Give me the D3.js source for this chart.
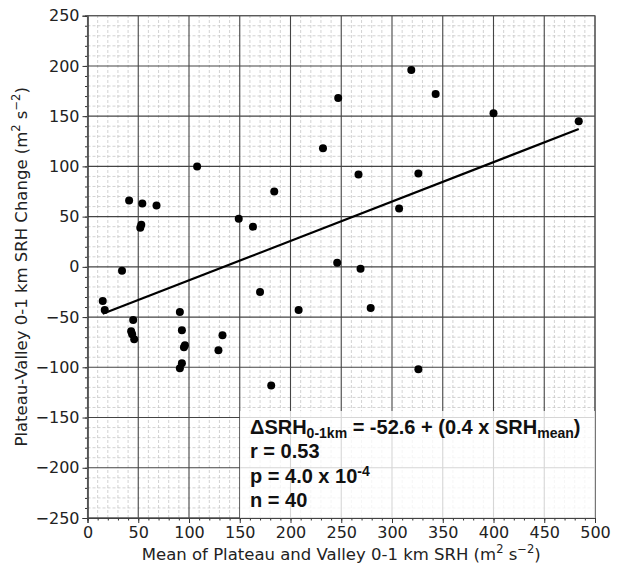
<!DOCTYPE html>
<html><head><meta charset="utf-8">
<script src="https://cdn.jsdelivr.net/npm/d3@7"></script>
<style>body{margin:0;background:#fff}svg{display:block}</style>
</head><body>
<script>
const meanSRH = [41,54,68,52,53,108,149,163,184,34,247,319,343,400,484,232,267,326,307,246,269,15,17,45,43,44,46,91,93,95,96,93,91,129,133,170,208,181,279,326];
const srhChange = [66,63,61,39,42,100,48,40,75,-4,168,196,172,153,145,118,92,93,58,4,-2,-34,-43,-53,-64,-67,-72,-45,-63,-80,-78,-96,-101,-83,-68,-25,-43,-118,-41,-102];
const fitIntercept = -52.6;
const fitSlope = 0.392;
const fitRange = [15, 484];
const xTicks = [0,50,100,150,200,250,300,350,400,450,500];
const yTicks = [-250,-200,-150,-100,-50,0,50,100,150,200,250];
const statsLines = ["r = 0.53", "n = 40"];

const W = 618, H = 565;
const svg = d3.select("body").append("svg").attr("width", W).attr("height", H);
const x = d3.scaleLinear([0,500],[87.5,595]);
const y = d3.scaleLinear([-250,250],[518,15.7]);
const minorX = d3.range(0,501,10), minorY = d3.range(-250,251,10);

const g = svg.append("g");
// minor grid
g.selectAll(".mx").data(minorX.filter(v=>v%50)).join("line")
  .attr("x1",d=>x(d)).attr("x2",d=>x(d)).attr("y1",y(-250)).attr("y2",y(250))
  .attr("stroke","#c8c8c8").attr("stroke-width",0.8).attr("stroke-dasharray","3,2");
g.selectAll(".my").data(minorY.filter(v=>v%50)).join("line")
  .attr("y1",d=>y(d)).attr("y2",d=>y(d)).attr("x1",x(0)).attr("x2",x(500))
  .attr("stroke","#c8c8c8").attr("stroke-width",0.8).attr("stroke-dasharray","3,2");
// major grid
g.selectAll(".Mx").data(xTicks).join("line")
  .attr("x1",d=>x(d)).attr("x2",d=>x(d)).attr("y1",y(-250)).attr("y2",y(250))
  .attr("stroke","#444").attr("stroke-width",1.1);
g.selectAll(".My").data(yTicks).join("line")
  .attr("y1",d=>y(d)).attr("y2",d=>y(d)).attr("x1",x(0)).attr("x2",x(500))
  .attr("stroke","#444").attr("stroke-width",1.1);

// axes
const fmt = d3.format("");
const xAxis = d3.axisBottom(x).tickValues(xTicks).tickSize(5).tickPadding(4).tickFormat(fmt);
const yAxis = d3.axisLeft(y).tickValues(yTicks).tickSize(5).tickPadding(3).tickFormat(fmt);
const xMinor = d3.axisBottom(x).tickValues(minorX).tickSize(2.5).tickFormat("");
const yMinor = d3.axisLeft(y).tickValues(minorY).tickSize(2.5).tickFormat("");
[[xMinor,"b"],[yMinor,"l"],[xAxis,"b"],[yAxis,"l"]].forEach(([ax,s])=>{
  const a = svg.append("g").attr("transform", s==="b" ? `translate(0,${y(-250)})` : `translate(${x(0)},0)`).call(ax);
  a.select(".domain").attr("stroke","#333");
  a.selectAll(".tick line").attr("stroke","#333");
  a.selectAll("text").attr("font-family","DejaVu Sans").attr("font-size",16).attr("fill","#222");
});

// fit line
svg.append("line")
  .attr("x1",x(fitRange[0])).attr("y1",y(fitIntercept+fitSlope*fitRange[0]))
  .attr("x2",x(fitRange[1])).attr("y2",y(fitIntercept+fitSlope*fitRange[1]))
  .attr("stroke","#000").attr("stroke-width",2.2);

// points
svg.selectAll(".pt").data(meanSRH.map((v,i)=>[v,srhChange[i]])).join("circle")
  .attr("cx",d=>x(d[0])).attr("cy",d=>y(d[1])).attr("r",4).attr("fill","#000");

// frame
svg.append("rect").attr("x",x(0)).attr("y",y(250)).attr("width",x(500)-x(0)).attr("height",y(-250)-y(250))
  .attr("fill","none").attr("stroke","#555").attr("stroke-width",1);

// annotation box
svg.append("rect").attr("x",240).attr("y",411).attr("width",x(500)-240).attr("height",y(-250)-411)
  .attr("fill","#fff").attr("fill-opacity",0.78);

const tb = svg.append("g").attr("font-family","Liberation Sans, Arial, sans-serif").attr("font-weight","bold").attr("font-size",20).attr("fill","#111");
const t1 = tb.append("text").attr("x",250).attr("y",434);
t1.append("tspan").text("ΔSRH");
t1.append("tspan").attr("font-size",14).attr("dy",4).text("0-1km");
t1.append("tspan").attr("dy",-4).text(" = -52.6 + (0.4 x SRH");
t1.append("tspan").attr("font-size",14).attr("dy",4).text("mean");
t1.append("tspan").attr("dy",-4).text(")");
tb.append("text").attr("x",250).attr("y",458).text(statsLines[0]);
const t3 = tb.append("text").attr("x",250).attr("y",483);
t3.append("tspan").text("p = 4.0 x 10");
t3.append("tspan").attr("font-size",14).attr("dy",-7).text("-4");
tb.append("text").attr("x",250).attr("y",507).text(statsLines[1]);

// axis labels
const xl = svg.append("text").attr("x",(x(0)+x(500))/2).attr("y",560).attr("text-anchor","middle")
  .attr("font-family","DejaVu Sans").attr("font-size",16.5).attr("fill","#222");
xl.append("tspan").text("Mean of Plateau and Valley 0-1 km SRH (m");
xl.append("tspan").attr("font-size",11.5).attr("dy",-7).text("2");
xl.append("tspan").attr("dy",7).text(" s");
xl.append("tspan").attr("font-size",11.5).attr("dy",-7).text("−2");
xl.append("tspan").attr("dy",7).text(")");

const yl = svg.append("text").attr("transform",`translate(27,${(y(-250)+y(250))/2}) rotate(-90)`).attr("text-anchor","middle")
  .attr("font-family","DejaVu Sans").attr("font-size",16.5).attr("fill","#222");
yl.append("tspan").text("Plateau-Valley 0-1 km SRH Change (m");
yl.append("tspan").attr("font-size",11.5).attr("dy",-7).text("2");
yl.append("tspan").attr("dy",7).text(" s");
yl.append("tspan").attr("font-size",11.5).attr("dy",-7).text("−2");
yl.append("tspan").attr("dy",7).text(")");
</script>
</body></html>
